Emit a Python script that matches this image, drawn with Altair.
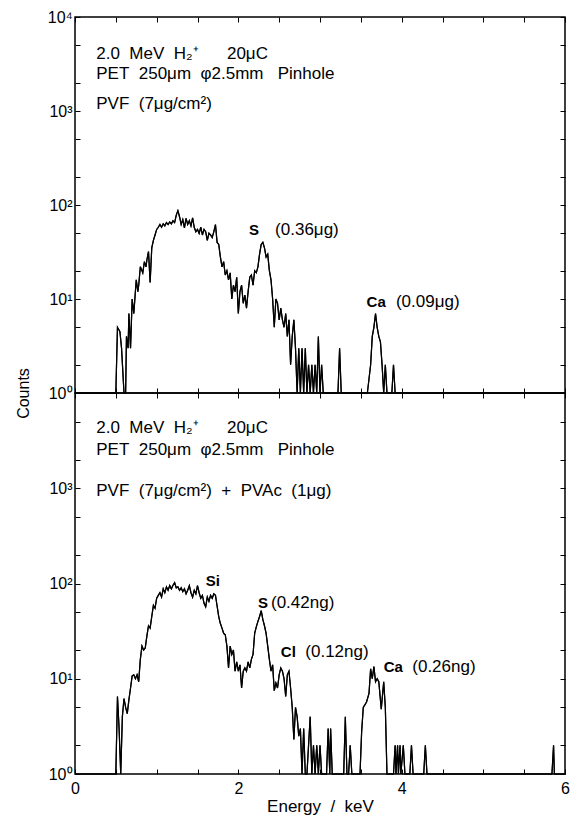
import altair as alt
import pandas as pd

# ---------------- data ----------------
top_energy = [0.0, 0.50, 0.52, 0.55, 0.57, 0.60, 0.62, 0.63, 0.65, 0.66, 0.68, 0.70, 0.72, 0.75, 0.77, 0.78,
              0.80, 0.82, 0.83, 0.85, 0.87, 0.88, 0.90, 0.92, 0.94, 0.96, 0.98, 1.00, 1.02, 1.04, 1.06, 1.08,
              1.10, 1.12, 1.14, 1.16, 1.18, 1.20, 1.22, 1.24, 1.26, 1.28, 1.30, 1.32, 1.34, 1.36, 1.38, 1.40,
              1.42, 1.44, 1.46, 1.48, 1.50, 1.52, 1.54, 1.56, 1.58, 1.60, 1.62, 1.64, 1.66, 1.68, 1.70, 1.72,
              1.74, 1.76, 1.78, 1.80, 1.82, 1.84, 1.86, 1.88, 1.90, 1.92, 1.94, 1.96, 1.98, 2.00, 2.02, 2.04,
              2.06, 2.08, 2.10, 2.12, 2.14, 2.16, 2.18, 2.20, 2.22, 2.24, 2.26, 2.28, 2.30, 2.32, 2.34, 2.36,
              2.38, 2.40, 2.42, 2.44, 2.46, 2.48, 2.50, 2.52, 2.54, 2.56, 2.58, 2.60, 2.62, 2.64, 2.66, 2.68,
              2.70, 2.72, 2.74, 2.76, 2.78, 2.80, 2.82, 2.84, 2.86, 2.88, 2.90, 2.92, 2.94, 2.96, 2.98, 3.00,
              3.02, 3.04, 3.06, 3.22, 3.24, 3.26, 3.54, 3.58, 3.62, 3.64, 3.66, 3.68, 3.70, 3.72, 3.74, 3.76,
              3.78, 3.80, 3.82, 3.88, 3.90, 3.92, 6.0]
top_counts = [1, 1, 5, 4.5, 3, 1, 1, 4, 3, 7, 3, 10, 7, 16, 12, 14,
              22, 20, 19, 25, 22, 26, 32, 15, 35, 42, 48, 55, 58, 62, 58, 63,
              60, 65, 62, 66, 63, 68, 65, 78, 87, 75, 62, 70, 57, 72, 62, 68,
              60, 73, 58, 52, 55, 50, 58, 48, 55, 52, 42, 50, 48, 45, 52, 62,
              40, 38, 28, 22, 25, 18, 20, 16, 19, 10, 14, 12, 17, 7, 12, 14,
              9, 11, 8, 12, 17, 18, 14, 20, 19, 22, 30, 38, 40, 35, 28, 30,
              20, 16, 10, 5, 10, 9, 6, 8, 6, 5, 7, 4, 6, 2, 4, 6,
              3, 1, 3, 1, 3, 1, 3, 1, 2, 1, 2, 1, 2, 1, 4, 1,
              2, 1, 1, 1, 3, 1, 1, 1, 2, 4, 5, 7, 5, 4, 3.5, 2,
              1, 2, 1, 1, 2, 1, 1]

bot_energy = [0.0, 0.50, 0.52, 0.54, 0.56, 0.58, 0.60, 0.62, 0.64, 0.66, 0.68, 0.70, 0.72, 0.74, 0.76, 0.78,
              0.80, 0.82, 0.84, 0.86, 0.88, 0.90, 0.92, 0.94, 0.96, 0.98, 1.00, 1.02, 1.04, 1.06, 1.08, 1.10,
              1.12, 1.14, 1.16, 1.18, 1.20, 1.22, 1.24, 1.26, 1.28, 1.30, 1.32, 1.34, 1.36, 1.38, 1.40, 1.42,
              1.44, 1.46, 1.48, 1.50, 1.52, 1.54, 1.56, 1.58, 1.60, 1.62, 1.64, 1.66, 1.68, 1.70, 1.72, 1.74,
              1.76, 1.78, 1.80, 1.82, 1.84, 1.86, 1.88, 1.90, 1.92, 1.94, 1.96, 1.98, 2.00, 2.02, 2.04, 2.06,
              2.08, 2.10, 2.12, 2.14, 2.16, 2.18, 2.20, 2.22, 2.24, 2.26, 2.28, 2.30, 2.32, 2.34, 2.36, 2.38,
              2.40, 2.42, 2.44, 2.46, 2.48, 2.50, 2.52, 2.54, 2.56, 2.58, 2.60, 2.62, 2.64, 2.66, 2.68, 2.70,
              2.72, 2.74, 2.76, 2.78, 2.80, 2.82, 2.84, 2.86, 2.88, 2.90, 2.92, 2.94, 2.96, 2.98, 3.00, 3.02,
              3.04, 3.06, 3.08, 3.10, 3.12, 3.13, 3.15, 3.29, 3.31, 3.33, 3.35, 3.37, 3.39, 3.49, 3.51, 3.53,
              3.57, 3.60, 3.62, 3.64, 3.66, 3.68, 3.70, 3.72, 3.75, 3.78, 3.80, 3.82, 3.90, 3.92, 3.93, 3.95,
              3.96, 3.98, 3.99, 4.02, 4.04, 4.10, 4.12, 4.14, 4.27, 4.29, 4.31, 5.84, 5.86, 5.87, 6.0]
bot_counts = [1, 1, 6.5, 3, 1, 4, 6.2, 5, 4.3, 6, 8, 10.7, 11, 10, 11, 9.3,
              16, 22, 20, 21, 28, 36, 34, 45, 59, 55, 70, 75, 80, 72, 88, 80,
              92, 85, 95, 88, 96, 102, 90, 92, 85, 90, 82, 88, 78, 85, 95, 80,
              72, 85, 78, 95, 80, 70, 75, 62, 57, 72, 65, 75, 70, 78, 75, 58,
              45, 38, 34, 30, 29, 22, 13, 22, 18, 20, 12, 15, 12, 14, 8, 12,
              13, 12, 15, 13, 16, 18, 30, 35, 40, 45, 52, 42, 36, 30, 22, 16,
              12, 14, 7.5, 9, 8, 11, 13, 12, 10, 6.5, 11, 12, 8, 5, 2.3, 5,
              4, 2.5, 3, 1, 3, 1, 1, 2, 4, 1, 2, 1, 2, 1, 2, 1,
              1, 1, 1, 3, 1, 3, 1, 1, 4, 1, 1, 2, 1, 1, 2.8, 5,
              5.7, 7, 12.7, 10, 13.4, 9.3, 10, 9.3, 4.8, 9.3, 5, 1, 1, 2, 1, 2,
              1, 2, 1, 2, 1, 1, 2, 1, 1, 2, 1, 1, 2, 1, 1]

NB = "\u00a0"
# annotations: (text, energy, counts)
top_notes = ["2.0" + NB * 2 + "MeV" + NB * 2 + "H\u2082\u207a" + NB * 6 + "20\u03bcC",
             "PET" + NB * 2 + "250\u03bcm" + NB * 2 + "\u03c62.5mm" + NB * 3 + "Pinhole",
             "PVF" + NB * 2 + "(7\u03bcg/cm\u00b2)",
             "(0.36\u03bcg)", "(0.09\u03bcg)"]
top_notes_x = [0.26, 0.26, 0.26, 2.45, 3.93]
top_notes_y = [4000, 2500, 1200, 54, 9.3]
top_bold = ["S", "Ca"]
top_bold_x = [2.13, 3.57]
top_bold_y = [54, 9.3]

bot_notes = ["2.0" + NB * 2 + "MeV" + NB * 2 + "H\u2082\u207a" + NB * 6 + "20\u03bcC",
             "PET" + NB * 2 + "250\u03bcm" + NB * 2 + "\u03c62.5mm" + NB * 3 + "Pinhole",
             "PVF" + NB * 2 + "(7\u03bcg/cm\u00b2)" + NB * 2 + "+" + NB * 2 + "PVAc" + NB * 2 + "(1\u03bcg)",
             "(0.42ng)", "(0.12ng)", "(0.26ng)"]
bot_notes_x = [0.26, 0.26, 0.26, 2.40, 2.82, 4.13]
bot_notes_y = [4300, 2500, 930, 62, 19, 13.4]
bot_bold = ["Si", "S", "Cl", "Ca"]
bot_bold_x = [1.60, 2.24, 2.52, 3.78]
bot_bold_y = [105, 62, 19, 13.4]

x_ticks = [0, 0.5, 1, 1.5, 2, 2.5, 3, 3.5, 4, 4.5, 5, 5.5, 6]
y_ticks = [1, 2, 5, 10, 20, 50, 100, 200, 500, 1000, 2000, 5000, 10000]

FONT = "Liberation Sans"
W = 490


def ylab(include_top):
    e = ("datum.value == 1 ? '10\u2070' : datum.value == 10 ? '10\u00b9' : datum.value == 100 ? '10\u00b2' : "
         "datum.value == 1000 ? '10\u00b3' : ")
    e += "datum.value == 10000 ? '10\u2074' : ''" if include_top else "''"
    return e


def panel(energy, counts, notes, nx, ny, bold, bx, by, height, bottom):
    df = pd.DataFrame({"E": energy, "C": counts})
    xs = alt.Scale(domain=[0, 6], nice=False, zero=False)
    ys = alt.Scale(type="log", domain=[1, 10000], nice=False)
    inward = {"expr": "-5"}
    xaxis = alt.Axis(values=x_ticks, tickSize=inward, domain=False, grid=False, labelFlush=False,
                     labels=bottom, labelExpr="datum.value % 2 == 0 ? format(datum.value, 'd') : ''",
                     labelPadding=11, title=("Energy" + NB * 2 + "/" + NB * 2 + "keV") if bottom else None,
                     titlePadding=2, titleFontSize=17)
    if bottom:
        yaxis = alt.Axis(values=y_ticks, tickSize=inward, domain=False, grid=False, labelFlush=False,
                         labelExpr=ylab(False), labelPadding=8, title=None)
    else:
        yaxis = alt.Axis(values=y_ticks, tickSize=inward, domain=False, grid=False, labelFlush=False,
                         labelExpr=ylab(True), labelPadding=8, title="Counts",
                         titleY=height, titleX=-44, titleAngle=-90, titleAlign="center",
                         titleBaseline="bottom")
    line = alt.Chart(df).mark_line(color="black", strokeWidth=1.2).encode(
        x=alt.X("E:Q", scale=xs, axis=xaxis),
        y=alt.Y("C:Q", scale=ys, axis=yaxis),
    )
    tdf = pd.DataFrame({"t": notes, "x": nx, "y": ny})
    bdf = pd.DataFrame({"t": bold, "x": bx, "y": by})
    txt = alt.Chart(tdf).mark_text(align="left", baseline="middle", font=FONT, fontSize=17, color="black").encode(
        x=alt.X("x:Q", scale=xs), y=alt.Y("y:Q", scale=ys), text="t:N")
    btxt = alt.Chart(bdf).mark_text(align="left", baseline="middle", font=FONT, fontSize=15,
                                    fontWeight="bold", color="black").encode(
        x=alt.X("x:Q", scale=xs), y=alt.Y("y:Q", scale=ys), text="t:N")
    inner = alt.layer(line, txt, btxt)
    mirror = alt.Chart(df).mark_line(color="black", strokeWidth=1.2).encode(
        x=alt.X("E:Q", scale=xs, axis=alt.Axis(orient="top", values=x_ticks, tickSize=inward, labels=False,
                                               domain=False, grid=False, title=None, minExtent=0, maxExtent=0)),
        y=alt.Y("C:Q", scale=ys, axis=alt.Axis(orient="right", values=y_ticks, tickSize=inward, labels=False,
                                               domain=False, grid=False, title=None, minExtent=0, maxExtent=0)),
    )
    return alt.layer(inner, mirror).resolve_scale(x="independent", y="independent").properties(
        width=W, height=height)


top = panel(top_energy, top_counts, top_notes, top_notes_x, top_notes_y, top_bold, top_bold_x, top_bold_y,
            376, False)
bot = panel(bot_energy, bot_counts, bot_notes, bot_notes_x, bot_notes_y, bot_bold, bot_bold_x, bot_bold_y,
            381, True)

chart = alt.vconcat(top, bot, spacing=0, bounds="flush").properties(
    padding={"left": 6, "top": 0, "right": 0, "bottom": 2}
).configure_view(stroke="black", strokeWidth=1.5).configure_axis(
    labelFont=FONT, titleFont=FONT, labelFontSize=16, titleFontSize=16, labelColor="black",
    titleColor="black", tickColor="black", tickWidth=1, titleFontWeight="normal"
)

chart.save("out.html", embed_options={"renderer": "svg", "actions": False})
